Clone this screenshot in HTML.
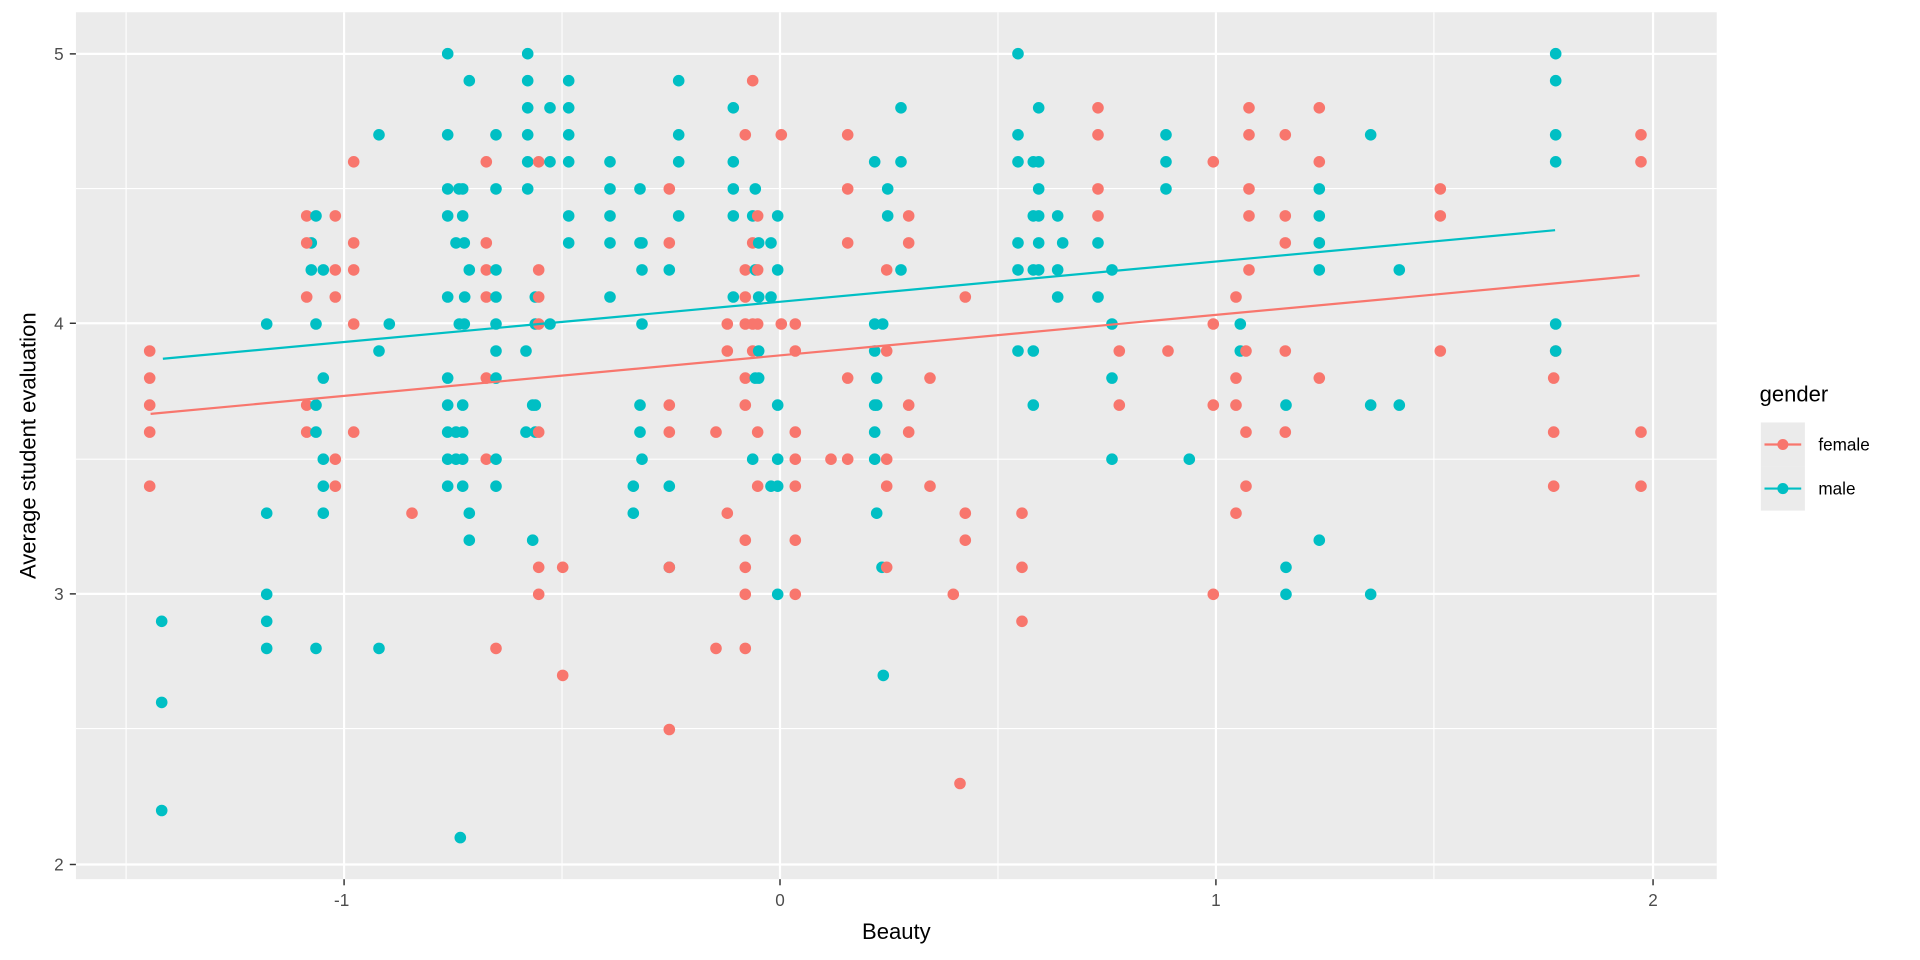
<!DOCTYPE html>
<html><head><meta charset="utf-8"><style>
html,body{margin:0;padding:0;background:#fff;}
svg{display:block;}
svg text{font-family:"Liberation Sans",Arial,sans-serif;}
</style></head><body>
<svg id="s" width="1920" height="960" viewBox="0 0 1568 784" preserveAspectRatio="none" xmlns="http://www.w3.org/2000/svg">
<rect x="0" y="0" width="1568" height="784" fill="#fff"/>
<rect x="62" y="10" width="1340" height="708" fill="#EBEBEB"/>
<g stroke="#fff" stroke-width="0.9">
<line x1="103" y1="10" x2="103" y2="718"/><line x1="459" y1="10" x2="459" y2="718"/>
<line x1="815" y1="10" x2="815" y2="718"/><line x1="1171" y1="10" x2="1171" y2="718"/>
<line x1="62" y1="154" x2="1402" y2="154"/><line x1="62" y1="375" x2="1402" y2="375"/>
<line x1="62" y1="595" x2="1402" y2="595"/>
</g>
<g stroke="#fff" stroke-width="1.8">
<line x1="281" y1="10" x2="281" y2="718"/><line x1="637" y1="10" x2="637" y2="718"/>
<line x1="993" y1="10" x2="993" y2="718"/><line x1="1350" y1="10" x2="1350" y2="718"/>
<line x1="62" y1="44" x2="1402" y2="44"/><line x1="62" y1="264" x2="1402" y2="264"/>
<line x1="62" y1="485" x2="1402" y2="485"/><line x1="62" y1="706" x2="1402" y2="706"/>
</g>
<g stroke="#333" stroke-width="1.2">
<line x1="57" y1="44" x2="62" y2="44"/><line x1="57" y1="264" x2="62" y2="264"/>
<line x1="57" y1="485" x2="62" y2="485"/><line x1="57" y1="706" x2="62" y2="706"/>
<line x1="281" y1="718" x2="281" y2="723"/><line x1="637" y1="718" x2="637" y2="723"/>
<line x1="993" y1="718" x2="993" y2="723"/><line x1="1350" y1="718" x2="1350" y2="723"/>
</g>
<g fill="#4D4D4D" font-size="14" text-anchor="end">
<text x="52" y="49">5</text><text x="52" y="269">4</text><text x="52" y="490">3</text><text x="52" y="711">2</text>
</g>
<g fill="#4D4D4D" font-size="14" text-anchor="middle">
<text x="279" y="740">-1</text><text x="637" y="740">0</text><text x="993" y="740">1</text><text x="1350" y="740">2</text>
</g>
<text x="732" y="767" font-size="18" text-anchor="middle" fill="#000">Beauty</text>
<text transform="translate(29,364) rotate(-90)" font-size="18" text-anchor="middle" fill="#000">Average student evaluation</text>
<g id="pts" transform="scale(0.81666)"></g>
<line x1="133" y1="293" x2="1270" y2="188" stroke="#00BFC4" stroke-width="1.8"/>
<line x1="123" y1="338" x2="1339" y2="225" stroke="#F8766D" stroke-width="1.8"/>
<text x="1437" y="328" font-size="18" fill="#000">gender</text>
<rect x="1438" y="345" width="36" height="36" fill="#EBEBEB"/>
<rect x="1438" y="381" width="36" height="36" fill="#EBEBEB"/>
<line x1="1441" y1="363" x2="1471" y2="363" stroke="#F8766D" stroke-width="1.8"/>
<circle cx="1456" cy="363" r="4.5" fill="#F8766D"/>
<line x1="1441" y1="399" x2="1471" y2="399" stroke="#00BFC4" stroke-width="1.8"/>
<circle cx="1456" cy="399" r="4.5" fill="#00BFC4"/>
<text x="1485" y="368" font-size="14" fill="#000">female</text>
<text x="1485" y="404" font-size="14" fill="#000">male</text>
</svg>
<script>
var R={
"5.0":"t447.7 t527.7 t1018 t1555.7",
"4.9":"t469.3 t527.7 t568.7 t678.7 r752.7 t1555.7",
"4.8":"t527.7 t550 t568.7 t733.3 t901 t1038.7 r1098 r1249 r1319.3",
"4.7":"t379 t447.7 t496 t527.7 t568.7 t678.7 r745.3 r781.3 r847.7 t1018 r1098 t1166 r1249 r1285.3 t1370.7 t1555.7 r1641",
"4.6":"r353.7 r486.3 t527.7 r538.7 t550 t568.7 t610 t678.7 t733.3 t874.7 t901 t1018 t1033.3 t1038.7 t1166 r1213.3 r1319.3 t1555.7 r1641",
"4.5":"t447.7 t459 t462.7 t496 t527.7 t610 t640 r669.3 t733.3 t755.3 r847.7 t887.7 t1038.7 r1098 t1166 r1249 t1319.3 r1440.3",
"4.4":"r306.7 t316 r335.3 t447.7 t462.7 t568.7 t610 t678.7 t733.3 t752.7 r757.7 t777.7 t887.7 r908.7 t1033.3 t1038.7 t1057.7 r1098 r1249 r1285.3 t1319.3 r1440.3",
"4.3":"t311.3 r306.7 r353.7 t456 t464.3 r486.3 t568.7 t610 t640 t642 r669.3 r752.7 t758.7 t771 r847.7 r908.7 t1018 t1038.7 t1062.7 t1098 r1285.3 r1319.3 t1319.3",
"4.2":"t311.3 t323.3 r335.3 r353.7 t469.3 r486.3 t496 r538.7 t642 t669.3 r745.3 t755.3 r757.7 t777.7 r886.7 t901 t1018 t1033.3 t1038.7 t1057.7 t1112 r1249 t1319.3 t1399.3",
"4.1":"r306.7 r335.3 t447.7 t464.7 r486.3 t496 t535.3 r538.7 t610 t733.3 r745.3 t758.7 t771 r965.3 t1057.7 t1098 r1236",
"4.0":"t266.7 t316 r353.7 t389.3 t459.3 t464.3 t496 t535.3 r538.7 t550 t642 r727.3 r745.3 r752.7 r757.7 r781.3 r795.3 t874.7 t882.7 t1112 r1213.3 t1240.3 t1555.7",
"3.9":"r149.7 t379 t496 t526 r727.3 r752.7 t758.7 r795.3 t874.7 r886.7 t1018 t1033.3 r1119.3 r1168 t1240.3 r1246 r1285.3 r1440.3 r1555.7 t1555.7",
"3.8":"r149.7 t323.3 t447.7 r486.3 t496 r745.3 t755.3 t758.7 r847.7 t876.7 r930 t1112 r1236 r1319.3 r1553.7",
"3.7":"r149.7 r306.7 t316 t447.7 t462.7 t532.7 t535.3 t640 r669.3 r745.3 t777.7 t874.7 t876.7 r908.7 t1033.3 r1119.3 r1213.3 r1236 t1286 t1370.7 t1399.3",
"3.6":"r149.7 r306.7 t316 r353.7 t447.7 t456 t462.7 t526 t535.3 r538.7 t640 r669.3 r716 r757.7 r795.3 t874.7 r908.7 r1246 r1285.3 r1553.7 r1641",
"3.5":"t323.3 r335.3 t447.7 t456 t462.7 r486.3 t496 t642 t752.7 t777.7 r795.3 r831 r847.7 t874.7 r886.7 t1112 t1189.3",
"3.4":"r149.7 t323.3 r335.3 t447.7 t462.7 t496 t633.3 t669.3 r757.7 t771 t777.7 r795.3 r886.7 r930 r1246 r1553.7 r1641",
"3.3":"t266.7 t323.3 r412 t469.3 t633.3 r727.3 t876.7 r965.3 r1022 r1236",
"3.2":"t469.3 t532.7 r745.3 r795.3 r965.3 t1319.3",
"3.1":"r538.7 r562.7 t669.3 r669.3 r745.3 t882 r886.7 r1022 t1286",
"3.0":"t266.7 r538.7 r745.3 t777.7 r795.3 r953.3 r1213.3 t1286 t1370.7",
"2.9":"t161.7 t266.7 r1022",
"2.8":"t266.7 t316 t379 r496 r716 r745.3",
"2.7":"r562.7 t883.3",
"2.6":"t161.7",
"2.5":"r669.3",
"2.3":"r960",
"2.2":"t161.7",
"2.1":"t460.3"};
var h='';
for(var v in R){var y=53.7+(5-parseFloat(v))*270.3;
R[v].split(' ').forEach(function(s){var col=s[0]=='r'?'#F8766D':'#00BFC4';
h+='<circle cx="'+s.slice(1)+'" cy="'+y.toFixed(1)+'" r="5.8" fill="'+col+'"/>';});}
document.getElementById('pts').innerHTML=h;
</script>
</body></html>
